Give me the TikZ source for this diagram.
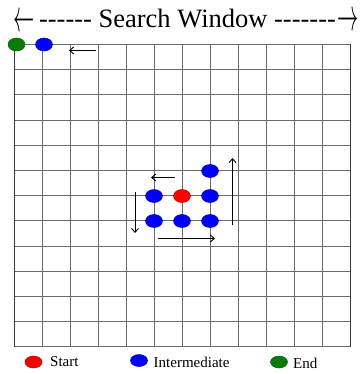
\documentclass[tikz,border=0pt]{standalone}
\usepackage{fontspec}
\setmainfont[Ligatures=TeXOff]{Liberation Serif}
\usetikzlibrary{shapes.geometric,arrows.meta}
\definecolor{gridc}{HTML}{6A6A6A}
\definecolor{gridd}{HTML}{3A3A3A}
\definecolor{dotred}{HTML}{FF0000}
\definecolor{dotblue}{HTML}{0000FF}
\definecolor{dotgreen}{HTML}{0B7A0B}
\newcommand{\titlearrow}[1]{\scalebox{0.85}[1.85]{$#1$}}
\tikzset{
  dot/.style={ellipse, minimum width=17pt, minimum height=13pt, inner sep=0pt, line width=0.5pt},
  startdot/.style={dot, fill=dotred, draw=dotred!75!black},
  middot/.style={dot, fill=dotblue, draw=dotblue!75!black},
  enddot/.style={dot, fill=dotgreen, draw=dotgreen!75!black},
  legdot/.style={ellipse, minimum width=17pt, minimum height=12pt, inner sep=0pt, line width=0.5pt},
  movearrow/.style={line width=0.9pt, -{Straight Barb[length=4pt,width=7pt]}},
  gridline/.style={line width=1pt, draw=gridc},
  legtext/.style={font=\fontsize{15}{17}\selectfont, anchor=base west, inner sep=0pt},
  titletext/.style={font=\fontsize{26.5}{30}\selectfont, inner sep=0pt}
}
\begin{document}
\begin{tikzpicture}[x=1pt,y=-1pt]
\useasboundingbox (0,0) rectangle (360,374);
% grid
\foreach \i in {0,...,12} {
  \draw[gridline] ({14+28*\i},44.5) -- ({14+28*\i},346.9);
  \draw[gridline] (14,{44.5+25.2*\i}) -- (350,{44.5+25.2*\i});
}
\draw[line width=1pt, draw=gridd] (350,44.5) -- (350,346.9);
\draw[line width=1pt, draw=gridd] (14,44.5) -- (14,346.9);
% title
\node[titletext, anchor=base] (title) at (187.5,28) {------ Search Window -------};
\node[titletext, anchor=center] (tl) at (24.2,23.3) {\titlearrow{\leftarrow}};
\node[titletext, anchor=center] (tr) at (348.3,21.8) {\titlearrow{\rightarrow}};
% top-left dots
\node[enddot] (e) at (16.5,44.5) {};
\node[middot] (t1) at (44,44.5) {};
% central dots
\node[middot] (m1) at (210,171) {};
\node[middot] (m2) at (154,196) {};
\node[startdot] (s) at (182,196) {};
\node[middot] (m3) at (210,196) {};
\node[middot] (m4) at (154,221) {};
\node[middot] (m5) at (182,221) {};
\node[middot] (m6) at (210,221) {};
% arrows
\coordinate (a1s) at (96,50.5); \coordinate (a1e) at (69,50.5);
\coordinate (a2s) at (175,177.5); \coordinate (a2e) at (151,177.5);
\coordinate (a3s) at (135,191.5); \coordinate (a3e) at (135,233);
\coordinate (a4s) at (158,238.5); \coordinate (a4e) at (215,238.5);
\coordinate (a5s) at (232.5,225); \coordinate (a5e) at (232.5,158);
\draw[movearrow] (a1s) -- (a1e);
\draw[movearrow] (a2s) -- (a2e);
\draw[movearrow] (a3s) -- (a3e);
\draw[movearrow] (a4s) -- (a4e);
\draw[movearrow] (a5s) -- (a5e);
% legend
\node[legdot, fill=dotred, draw=dotred!75!black] (ls) at (33.5,362) {};
\node[legtext] (lst) at (50,366) {Start};
\node[legdot, fill=dotblue, draw=dotblue!75!black] (li) at (139,360.5) {};
\node[legtext] (lit) at (153.5,367) {Intermediate};
\node[legdot, fill=dotgreen, draw=dotgreen!75!black] (le) at (279,362) {};
\node[legtext] (let) at (293,368) {End};
\end{tikzpicture}
\end{document}
